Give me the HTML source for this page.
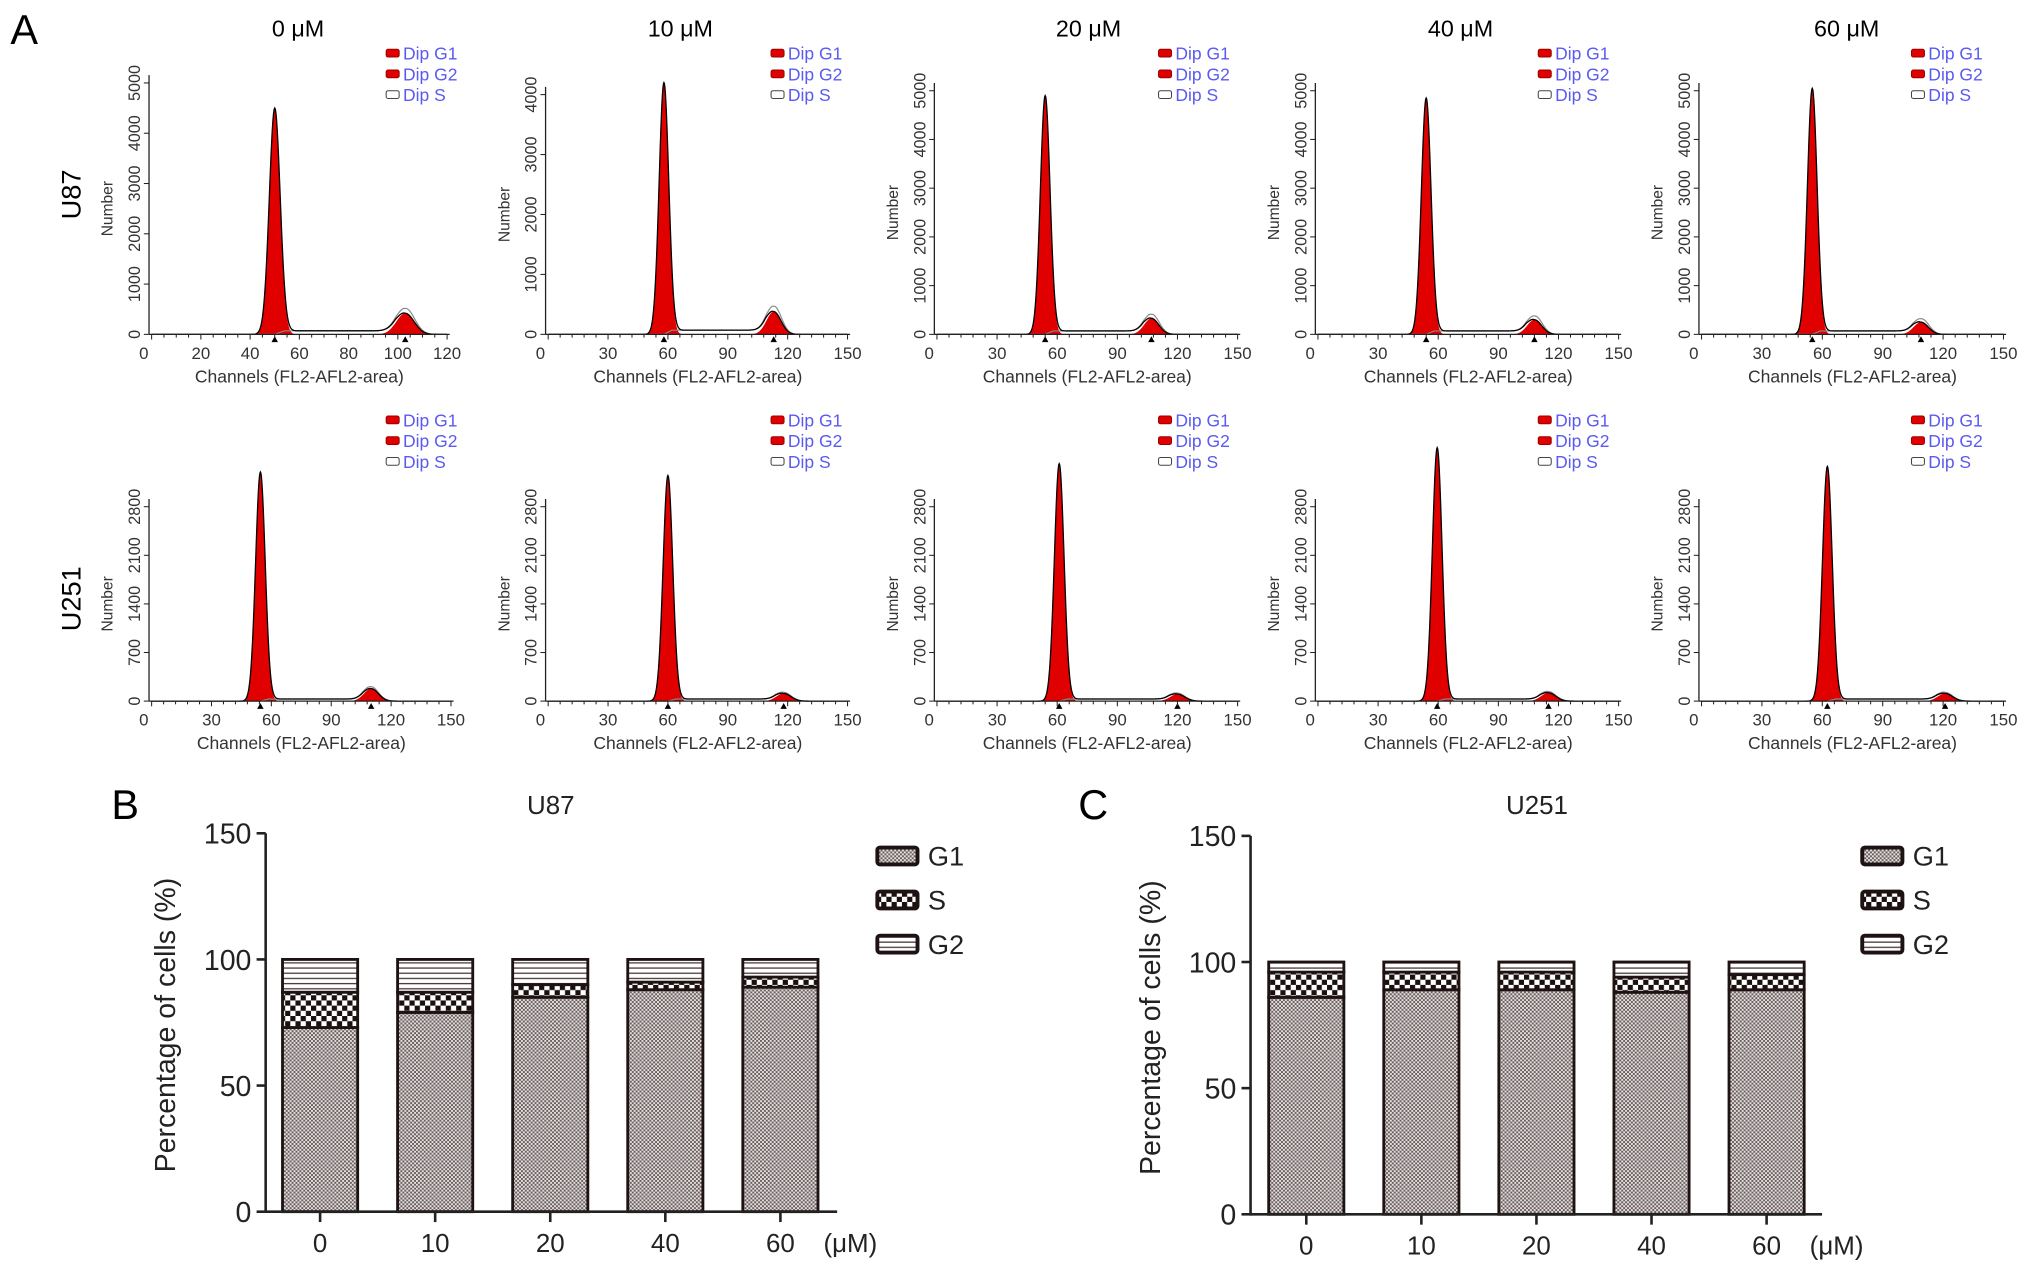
<!DOCTYPE html>
<html><head><meta charset="utf-8"><style>
html,body{margin:0;padding:0;background:#fff;}
svg{display:block;font-family:"Liberation Sans",Arial,sans-serif;}
</style></head><body>
<svg id="fig" width="2032" height="1273" viewBox="0 0 1568 982.3" xmlns="http://www.w3.org/2000/svg">
<defs>
<pattern id="pG1" width="3" height="3" patternUnits="userSpaceOnUse"><rect width="3" height="3" fill="#e4dede"/><rect width="1.5" height="1.5" fill="#6a6060"/><rect x="1.5" y="1.5" width="1.5" height="1.5" fill="#6a6060"/></pattern>
<pattern id="pS" width="8" height="8" patternUnits="userSpaceOnUse"><rect width="8" height="8" fill="#fff"/><rect width="4" height="4" fill="#1a1010"/><rect x="4" y="4" width="4" height="4" fill="#1a1010"/></pattern>
<pattern id="pG2" width="4" height="4" patternUnits="userSpaceOnUse"><rect width="4" height="4" fill="#fff"/><rect y="2.5" width="4" height="1" fill="#4a3a3a"/></pattern>
</defs>
<g id="root"></g>
</svg>
<script>
// ---- Histogram data (panel A) ----
const doses = ["0 μM","10 μM","20 μM","40 μM","60 μM"];
const u87G1Pos = [50,58,54,54,55];
const u87G1Height = [4500,4200,4900,4850,5050];
const u87G2Pos = [103,113,107,108,109];
const u87G2Height = [420,380,330,300,250];
const u251G1Pos = [54.5,60,61,59.5,62.5];
const u251G1Height = [3300,3250,3420,3650,3380];
const u251G2Pos = [110,118,120,115,121];
const u251G2Height = [180,110,100,120,110];
const u87XMax = [120,150,150,150,150];
const u251XMax = [150,150,150,150,150];
const u87YTicks = [[0,1000,2000,3000,4000,5000],[0,1000,2000,3000,4000],[0,1000,2000,3000,4000,5000],[0,1000,2000,3000,4000,5000],[0,1000,2000,3000,4000,5000]];
const u251YTicks = [0,700,1400,2100,2800];
// ---- Bar data (panels B, C) ----
const barCats = ["0","10","20","40","60"];
const u87G1 = [73,79,85,88,89];
const u87S = [14,8,5,3,4];
const u87G2 = [13,13,10,9,7];
const u251G1 = [86,89,89,88,89];
const u251S = [10,7,7,6,6];
const u251G2 = [4,4,4,6,5];
const barYTicks = [0,50,100,150];

const NS="http://www.w3.org/2000/svg";
const root=document.getElementById('root');
function el(tag,attrs,parent,text){const e=document.createElementNS(NS,tag);for(const k in attrs)e.setAttribute(k,attrs[k]);if(text!==undefined)e.textContent=text;(parent||root).appendChild(e);return e;}

// letters
let t;
t=el('text',{x:8,y:34,'font-size':32},root,'A');


t=el('text',{x:86,y:632,'font-size':32},root,'B');


t=el('text',{x:832,y:632,'font-size':32},root,'C');


t=el('text',{x:0,y:0,'font-size':21,transform:'translate(62,150) rotate(-90)','text-anchor':'middle'},root,'U87');


t=el('text',{x:0,y:0,'font-size':21,transform:'translate(62,462) rotate(-90)','text-anchor':'middle'},root,'U251');



const titleX=[230,525,840,1127,1425];
doses.forEach((d,i)=>{const tt=el('text',{x:titleX[i],y:28,'font-size':18,'text-anchor':'middle'},root,d);

});

const colXL=[117,423,723,1017,1313];
const colXR1=[345,654,955,1249,1546];
const colXR2=[348,654,955,1249,1546];
const legX=[298,595,894,1187,1475];

function gauss(x,m,s){return Math.exp(-0.5*((x-m)/s)**2);}

function histogram(i,row){
  const g=el('g',{});
  
  
  const xL=colXL[i], xR=row===0?colXR1[i]:colXR2[i];
  const base=row===0?258:541;
  const xMax=row===0?u87XMax[i]:u251XMax[i];
  const yt=row===0?u87YTicks[i]:u251YTicks;
  const topPix=row===0?(i===0?64:(i===1?73:70)):391;
  const yMax=yt[yt.length-1];
  const X=c=>xL+(c/xMax)*(xR-xL);
  const Y=v=>base-(v/yMax)*(base-topPix);
  const p1=row===0?u87G1Pos[i]:u251G1Pos[i], h1=row===0?u87G1Height[i]:u251G1Height[i];
  const p2=row===0?u87G2Pos[i]:u251G2Pos[i], h2=row===0?u87G2Height[i]:u251G2Height[i];
  const s1=xMax===120?2.2:2.4, s2=3.6;
  const sLevel=row===0?70:30;
  // S-phase plateau
  const Sf=c=>{if(c<p1||c>p2)return 0;return sLevel*Math.min(1,(c-p1)/4)*Math.min(1,(p2-c)/4);};
  let d1='',d2='',dt='',dsp='';
  for(let c=0;c<=xMax;c+=0.25){
    const a=h1*gauss(c,p1,s1), b=h2*gauss(c,p2,s2), s=Sf(c);
    d1+=(d1?'L':'M')+X(c).toFixed(2)+','+Y(a).toFixed(2);
    d2+=(d2?'L':'M')+X(c).toFixed(2)+','+Y(b).toFixed(2);
    dt+=(dt?'L':'M')+X(c).toFixed(2)+','+Y(a+b+s).toFixed(2);
    dsp+=(dsp?'L':'M')+X(c).toFixed(2)+','+Y(s+b*1.15+ (row===0?40*gauss(c,p2+2,3):0)).toFixed(2);
  }
  let e;
  e=el('path',{d:d1+'Z',fill:'#e00000',stroke:'none'},g);
  
  
  e=el('path',{d:d2+'Z',fill:'#e00000',stroke:'none'},g);
  
  
  e=el('path',{d:dsp,fill:'none',stroke:'#888','stroke-width':0.9},g);
  
  
  e=el('path',{d:dt,fill:'none',stroke:'#000','stroke-width':1},g);
  
  
  // markers
  [p1,p2].forEach(p=>{const m=el('path',{d:`M${X(p)-2.5},${base+6}L${X(p)+2.5},${base+6}L${X(p)},${base+1.5}Z`,fill:'#000'},g);
  
  });
  // axes
  e=el('line',{x1:xL-2,y1:base,x2:xR+2,y2:base,stroke:'#222','stroke-width':1},g);
  
  
  e=el('line',{x1:xL-2,y1:base,x2:xL-2,y2:topPix-6,stroke:'#222','stroke-width':1},g);
  
  
  const step=xMax===120?20:30;
  for(let c=0;c<=xMax;c+=step/ (xMax===120?4:5)){
    const major=Math.abs(c/step-Math.round(c/step))<1e-6;
    const tk=el('line',{x1:X(c),y1:base,x2:X(c),y2:base+(major?4:2.5),stroke:'#222','stroke-width':0.8},g);
    
    
    if(major){const lb=el('text',{x:X(c)-(c===0?6:0),y:base+19,'font-size':13,'text-anchor':'middle',fill:'#333'},g,String(c));
    
    }
  }
  yt.forEach(v=>{
    const tk=el('line',{x1:xL-6,y1:Y(v),x2:xL-2,y2:Y(v),stroke:'#222','stroke-width':0.8},g);
    
    
    const lb=el('text',{x:0,y:0,'font-size':12.5,'text-anchor':'middle',fill:'#333',transform:`translate(${xL-9},${Y(v)}) rotate(-90)`},g,String(v));
    
    
  });
  e=el('text',{x:(xL+xR)/2,y:base+37,'font-size':13.5,'text-anchor':'middle',fill:'#333'},g,'Channels (FL2-AFL2-area)');
  
  
  e=el('text',{x:0,y:0,'font-size':12,'text-anchor':'middle',fill:'#333',transform:`translate(${xL-30},${(base+topPix)/2}) rotate(-90)`},g,'Number');
  
  
  // legend
  const ly=row===0?42:325;
  ['Dip G1','Dip G2','Dip S'].forEach((n,k)=>{
    const lg=el('g',{},g);
    
    
    el('rect',{x:legX[i],y:ly+k*16-4,width:10,height:6,rx:1.5,fill:k<2?'#e00000':'#fff',stroke:k<2?'#900':'#444','stroke-width':0.8},lg);
    el('text',{x:legX[i]+13,y:ly+k*16+4,'font-size':13.5,fill:'#5a5af0'},lg,n);
  });
}
for(let i=0;i<5;i++){histogram(i,0);histogram(i,1);}

function barChart(opt){
  const g=el('g',{});
  
  
  const Y=v=>opt.y0-(v/150)*(opt.y0-opt.y150);
  const X=i=>opt.x0+i*opt.dx;
  let e;
  e=el('text',{x:opt.titleX,y:628,'font-size':20,'text-anchor':'middle',fill:'#222'},g,opt.title);
  
  
  barCats.forEach((c,i)=>{
    const w=58, x=X(i)-w/2;
    const a=opt.g1[i], b=opt.s[i], d=opt.g2[i];
    const segs=[[0,a,'url(#pG1)','bar-g1'],[a,a+b,'url(#pS)','bar-s'],[a+b,a+b+d,'url(#pG2)','bar-g2']];
    segs.forEach(sg=>{
      const r=el('rect',{x:x,y:Y(sg[1]),width:w,height:Y(sg[0])-Y(sg[1]),fill:sg[2],stroke:'#1e1212','stroke-width':2.2},g);
      
      
    });
    const tk=el('line',{x1:X(i),y1:opt.y0,x2:X(i),y2:opt.y0+8,stroke:'#222','stroke-width':2},g);
    
    
    const lb=el('text',{x:X(i),y:opt.y0+31,'font-size':20,'text-anchor':'middle',fill:'#222'},g,c);
    
    
  });
  e=el('text',{x:X(4)+54,y:opt.y0+31,'font-size':20,'text-anchor':'middle',fill:'#222'},g,'(μM)');
  
  
  e=el('line',{x1:opt.ax,y1:opt.y0,x2:opt.xEnd,y2:opt.y0,stroke:'#222','stroke-width':2},g);
  
  
  e=el('line',{x1:opt.ax,y1:opt.y0+1,x2:opt.ax,y2:opt.y150,stroke:'#222','stroke-width':2},g);
  
  
  barYTicks.forEach(v=>{
    const tk=el('line',{x1:opt.ax-7,y1:Y(v),x2:opt.ax,y2:Y(v),stroke:'#222','stroke-width':2},g);
    
    
    const lb=el('text',{x:opt.ax-11,y:Y(v)+8,'font-size':22,'text-anchor':'end',fill:'#222'},g,String(v));
    
    
  });
  e=el('text',{x:0,y:0,'font-size':22,'text-anchor':'middle',fill:'#222',transform:`translate(${opt.ax-70},${(opt.y0+opt.y150)/2+2}) rotate(-90)`},g,'Percentage of cells (%)');
  
  
  [['G1','url(#pG1)'],['S','url(#pS)'],['G2','url(#pG2)']].forEach((l,k)=>{
    const lg=el('g',{},g);
    
    
    el('rect',{x:opt.legX,y:654+k*34,width:31,height:13,rx:2,fill:l[1],stroke:'#1e1212','stroke-width':3},lg);
    el('text',{x:opt.legX+39,y:668+k*34,'font-size':21,fill:'#222'},lg,l[0]);
  });
}
barChart({name:'u87-bar-chart',title:'U87',titleX:425,x0:247,dx:88.8,ax:205,xEnd:646,y0:935,y150:643,legX:677,g1:u87G1,s:u87S,g2:u87G2});
barChart({name:'u251-bar-chart',title:'U251',titleX:1186,x0:1008,dx:88.8,ax:965,xEnd:1406,y0:937,y150:645,legX:1437,g1:u251G1,s:u251S,g2:u251G2});
</script>
</body></html>
